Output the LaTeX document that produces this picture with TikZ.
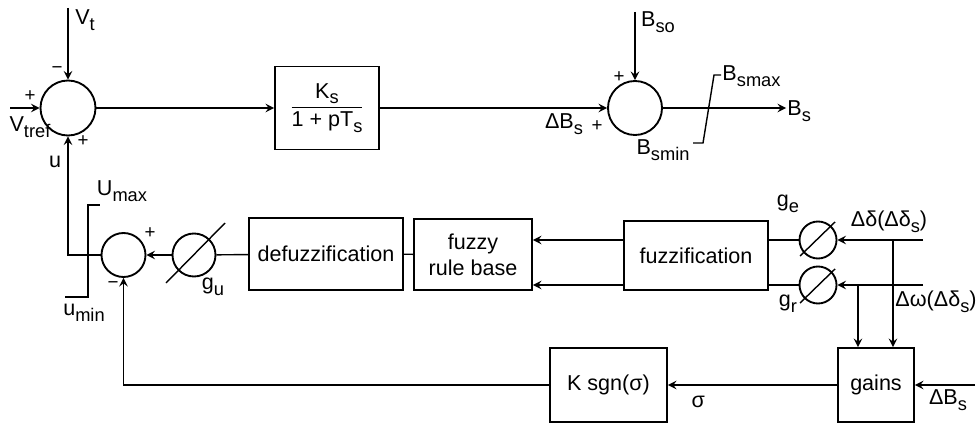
\documentclass[tikz,border=0pt]{standalone}
\usepackage{fontspec}
\setmainfont{Liberation Sans}
\usepackage{tikz}
\usetikzlibrary{arrows.meta, positioning, calc}
\newcommand{\lsub}[1]{\raisebox{-0.5ex}{\fontsize{7.8}{9}\selectfont #1}}

\begin{document}
\begin{tikzpicture}[
  x=0.015cm, y=-0.015cm,
  font=\fontsize{9.2}{11}\selectfont,
  box/.style={draw, line width=0.8pt, inner sep=2pt, align=center},
  sum/.style={draw, circle, line width=0.8pt, inner sep=0pt},
  gain/.style={draw, circle, line width=0.8pt, inner sep=0pt},
  arr/.style={->, >=stealth, line width=0.6pt},
  wire/.style={line width=0.6pt},
  sgn/.style={font=\fontsize{8}{9}\selectfont, inner sep=0pt}
]
  \useasboundingbox (0,0) rectangle (976,427);

  % upper loop
  \node[sum, minimum size=0.825cm] (sum1) at (68,108) {};
  \node[box, minimum width=1.56cm, minimum height=1.245cm] (ks) at (327,108)
    {$\displaystyle\frac{\mbox{K\lsub{s}}}{\mbox{1 + pT\lsub{s}}}$};
  \node[sum, minimum size=0.81cm] (sum2) at (635,108) {};

  \coordinate (vt)    at (68,8);
  \coordinate (vref)  at (10,108);
  \coordinate (bso)   at (635,12);
  \coordinate (bsout) at (786,108);

  % fuzzy part
  \node[sum, minimum size=0.66cm] (sum3) at (123.5,255) {};
  \node[gain, minimum size=0.645cm] (gu) at (194,255) {};
  \node[box, minimum width=2.31cm, minimum height=1.08cm] (defuzz) at (326,254) {defuzzification};
  \node[box, minimum width=1.77cm, minimum height=1.07cm] (rule)   at (473,254.5) {fuzzy\\rule base};
  \node[box, minimum width=2.16cm, minimum height=1.04cm] (fuzz)   at (696,255.5) {fuzzification};
  \node[gain, minimum size=0.555cm] (ge) at (818,240) {};
  \node[gain, minimum size=0.555cm] (gr) at (818,285) {};

  \node[box, minimum width=1.14cm, minimum height=1.11cm] (gains) at (876,385) {gains};
  \node[box, minimum width=1.755cm, minimum height=1.11cm] (ksgn) at (608.5,385) {K sgn(σ)};

  \coordinate (din)  at (923,240);
  \coordinate (dwin) at (923,285);
  \coordinate (db)   at (893,240);
  \coordinate (wb)   at (858,285);
  \coordinate (bin)  at (975,385);

  \draw[arr] (vt)   -- (sum1);
  \draw[arr] (vref) -- (sum1);
  \draw[arr] (sum1) -- (ks);
  \draw[arr] (ks)   -- (sum2);
  \draw[arr] (bso)  -- (sum2);
  \draw[arr] (sum2) -- (bsout);

  \draw[arr] (sum3) -| (sum1);
  \draw[arr] (gu) -- (sum3);
  \draw[wire] (defuzz) -- (gu);
  \draw[wire] (rule) -- (defuzz);
  \draw[arr] (fuzz.west |- ge) -- (rule.east |- ge);
  \draw[arr] (fuzz.west |- gr) -- (rule.east |- gr);
  \draw[wire] (ge) -- (fuzz.east |- ge);
  \draw[wire] (gr) -- (fuzz.east |- gr);
  \draw[arr] (din)  -- (ge);
  \draw[arr] (dwin) -- (gr);
  \draw[arr] (db) -- (db |- gains.north);
  \draw[arr] (wb) -- (wb |- gains.north);
  \draw[arr] (bin) -- (gains);
  \draw[arr] (gains) -- node[pos=0.82, below=1pt] {σ} (ksgn);
  \draw[arr] (ksgn) -| (sum3);

  % limiters and gain slashes
  \draw[wire] (693,143) -- (703,143) -- (714,75) -- (721,75);
  \draw[wire] (65,297) -- (88,297) -- (88,205) -- (100,205);
  \draw[wire] ($(gu)+(-28,28)$) -- ($(gu)+(31,-32)$);
  \draw[wire] ($(ge)+(-18,16)$) -- ($(ge)+(17,-18)$);
  \draw[wire] ($(gr)+(-18,18)$) -- ($(gr)+(17,-16)$);

  % labels
  \node at (85,20) {V\lsub{t}};
  \node at (30,127) {V\lsub{tref}};
  \node at (55,162) {u};
  \node at (122,191) {U\lsub{max}};
  \node at (84,313) {u\lsub{min}};
  \node at (213,287) {g\lsub{u}};
  \node at (564,124) {ΔB\lsub{s}};
  \node at (658,22) {B\lsub{so}};
  \node[anchor=west, inner sep=0pt] at (722,76) {B\lsub{smax}};
  \node[anchor=east, inner sep=0pt] at (690,150) {B\lsub{smin}};
  \node[anchor=west, inner sep=0pt] at (787,111) {B\lsub{s}};
  \node at (788,204) {g\lsub{e}};
  \node at (788,304) {g\lsub{r}};
  \node at (889,222) {Δδ(Δδ\lsub{s})};
  \node at (936,302) {Δω(Δδ\lsub{s})};
  \node at (948,400) {ΔB\lsub{s}};

  \node[sgn] at (57,70)   {−};
  \node[sgn] at (30,96)   {+};
  \node[sgn] at (83,141)  {+};
  \node[sgn] at (150,233) {+};
  \node[sgn] at (113,285) {−};
  \node[sgn] at (597,126) {+};
  \node[sgn] at (619,77)  {+};
\end{tikzpicture}
\end{document}
